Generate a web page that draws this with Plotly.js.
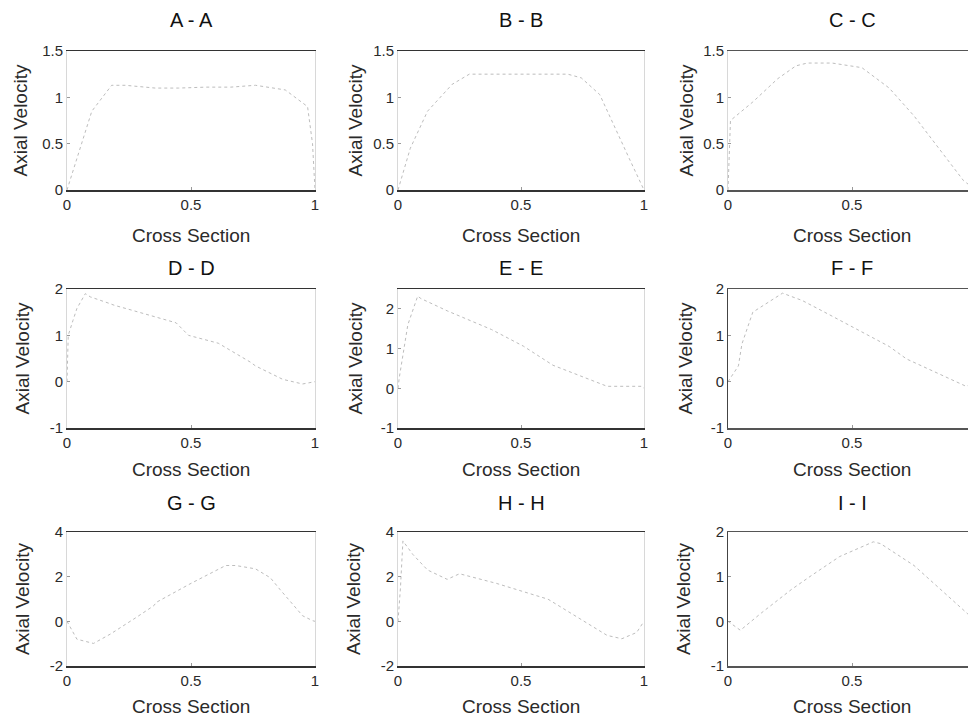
<!DOCTYPE html>
<html><head><meta charset="utf-8">
<script src="https://cdn.plot.ly/plotly-3.0.1.min.js"></script>
<style>html,body{margin:0;padding:0;overflow:hidden;background:#fff}#chart{width:1000px;height:717px}</style>
</head><body><div id="chart"></div>
<script>
// ---- data ----
const panelTitles = ['A - A','B - B','C - C','D - D','E - E','F - F','G - G','H - H','I - I'];
const xAxisTitle = 'Cross Section';
const yAxisTitle = 'Axial Velocity';
const xTicks = [0, 0.5, 1];
const xTickText = ['0', '0.5', '1'];
const xTickTextRightCol = ['0', '0.5', ''];   // the "1" of the right column lies beyond the picture's edge

const xA = [0,0.047,0.1,0.18,0.235,0.356,0.45,0.56,0.66,0.76,0.88,0.97,0.99,1];
const yA = [0,0.39,0.85,1.13,1.13,1.10,1.10,1.11,1.11,1.13,1.08,0.9,0.5,0];
const xB = [0,0.05,0.12,0.22,0.29,0.41,0.55,0.69,0.745,0.82,0.94,1];
const yB = [0,0.45,0.85,1.14,1.25,1.25,1.25,1.25,1.21,1.03,0.34,0];
const xC = [0,0.01,0.1,0.2,0.274,0.32,0.42,0.54,0.65,0.75,0.85,0.95,1];
const yC = [0,0.75,0.95,1.2,1.34,1.37,1.37,1.32,1.1,0.8,0.45,0.1,0];
const xD = [0,0.005,0.024,0.04,0.074,0.094,0.17,0.19,0.25,0.42,0.44,0.49,0.61,0.74,0.76,0.87,0.905,0.95,1];
const yD = [0,1.0,1.32,1.58,1.9,1.83,1.69,1.65,1.56,1.31,1.27,1.0,0.83,0.42,0.34,0.05,0.0,-0.05,0];
const xE = [0,0.005,0.04,0.08,0.093,0.2,0.38,0.51,0.63,0.75,0.85,0.955,0.99,1];
const yE = [0,0.26,1.6,2.32,2.26,1.95,1.48,1.06,0.58,0.3,0.05,0.05,0.05,0];
const xF = [0,0.042,0.056,0.1,0.22,0.3,0.4,0.62,0.65,0.72,0.91,0.96,1];
const yF = [0,0.34,0.81,1.5,1.91,1.75,1.47,0.85,0.76,0.49,0.01,-0.1,0];
const xG = [0,0.04,0.107,0.175,0.28,0.35,0.36,0.5,0.64,0.68,0.76,0.82,0.86,0.95,0.99,1];
const yG = [0,-0.8,-0.99,-0.57,0.18,0.70,0.85,1.7,2.5,2.5,2.35,1.95,1.41,0.25,0.03,0];
const xH = [0,0.01,0.02,0.06,0.12,0.2,0.25,0.4,0.61,0.69,0.85,0.91,0.97,1];
const yH = [0,1.5,3.6,3.0,2.3,1.88,2.13,1.7,0.99,0.45,-0.63,-0.78,-0.5,0];
const xI = [0,0.05,0.134,0.163,0.255,0.335,0.45,0.586,0.615,0.75,0.884,0.95,1];
const yI = [0,-0.2,0.185,0.31,0.71,1.02,1.45,1.78,1.74,1.25,0.58,0.25,0];

const yRangeA = [0,1.5], yRangeB = [0,1.5], yRangeC = [0,1.5];
const yRangeD = [-1,2], yRangeE = [-1,2.5], yRangeF = [-1,2];
const yRangeG = [-2,4], yRangeH = [-2,4], yRangeI = [-1,2];
const yTicks15 = [0,0.5,1,1.5], yTickText15 = ['0','0.5','1','1.5'];
const yTicks2 = [-1,0,1,2], yTickText2 = ['-1','0','1','2'];
const yTicks4 = [-2,0,2,4], yTickText4 = ['-2','0','2','4'];

// ---- layout helpers ----
const W = 1000, H = 717;
const cols = [[67,315],[398,644],[728,976]];
const rows = [[51,190],[289,428],[532,666]];
const titleY = [20, 268, 503];
const xTitleY = [235, 469, 706];
const yTitleX = [[20,355,686],[22,355,685],[22,353,683]];

const panels = [
  {x:xA,y:yA,r:yRangeA,t:yTicks15,tt:yTickText15},
  {x:xB,y:yB,r:yRangeB,t:yTicks15,tt:yTickText15},
  {x:xC,y:yC,r:yRangeC,t:yTicks15,tt:yTickText15},
  {x:xD,y:yD,r:yRangeD,t:yTicks2,tt:yTickText2},
  {x:xE,y:yE,r:yRangeE,t:yTicks2,tt:yTickText2},
  {x:xF,y:yF,r:yRangeF,t:yTicks2,tt:yTickText2},
  {x:xG,y:yG,r:yRangeG,t:yTicks4,tt:yTickText4},
  {x:xH,y:yH,r:yRangeH,t:yTicks4,tt:yTickText4},
  {x:xI,y:yI,r:yRangeI,t:yTicks2,tt:yTickText2}
];

const fontFam = 'Liberation Sans, Arial, sans-serif';
const txt = '#2a2a2a';
const traces = [];
const layout = {
  width: W, height: H,
  margin: {l:0,r:0,t:0,b:0},
  paper_bgcolor: '#fff', plot_bgcolor: '#fff',
  showlegend: false,
  font: {family: fontFam, color: txt, size: 15},
  annotations: []
};

panels.forEach((p, i) => {
  const r = Math.floor(i/3), c = i%3;
  const n = i+1;
  const xa = 'xaxis' + (n===1?'':n), ya = 'yaxis' + (n===1?'':n);
  traces.push({
    x: p.x, y: p.y, type: 'scatter', mode: 'lines',
    xaxis: 'x'+(n===1?'':n), yaxis: 'y'+(n===1?'':n),
    line: {color: '#bdbdbd', width: 1, dash: 'dot'},
    hoverinfo: 'skip'
  });
  const darkLeft = (i===5 || i===8);
  layout[xa] = {
    domain: [cols[c][0]/W, cols[c][1]/W],
    anchor: 'y'+(n===1?'':n),
    range: [0,1], tickvals: xTicks, ticktext: c===2 ? xTickTextRightCol : xTickText,
    showgrid: false, zeroline: false,
    showline: true, mirror: true, linecolor: c===2 ? '#555' : '#333', linewidth: 1.5,
    ticks: 'inside', ticklen: 3, tickcolor: '#999',
    tickfont: {size: 15, color: txt, family: fontFam}
  };
  layout[ya] = {
    domain: [1 - rows[r][1]/H, 1 - rows[r][0]/H],
    anchor: 'x'+(n===1?'':n),
    range: p.r, tickvals: p.t, ticktext: p.tt,
    showgrid: false, zeroline: false,
    showline: true, mirror: true, linecolor: darkLeft ? '#444' : '#d8d8d8', linewidth: 1,
    ticks: 'inside', ticklen: 3, tickcolor: '#999',
    tickfont: {size: 15, color: txt, family: fontFam}
  };
  const cx = (cols[c][0] + cols[c][1]) / 2;
  layout.annotations.push({
    text: panelTitles[i], xref: 'paper', yref: 'paper',
    x: cx/W, y: 1 - titleY[r]/H, xanchor: 'center', yanchor: 'middle',
    showarrow: false, font: {size: 20, color: '#111', family: fontFam}
  });
  layout.annotations.push({
    text: xAxisTitle, xref: 'paper', yref: 'paper',
    x: cx/W, y: 1 - xTitleY[r]/H, xanchor: 'center', yanchor: 'middle',
    showarrow: false, font: {size: 19, color: txt, family: fontFam}
  });
  layout.annotations.push({
    text: yAxisTitle, xref: 'paper', yref: 'paper',
    x: yTitleX[r][c]/W, y: 1 - ((rows[r][0]+rows[r][1])/2)/H,
    xanchor: 'center', yanchor: 'middle', textangle: -90,
    showarrow: false, font: {size: 19, color: txt, family: fontFam}
  });
});

Plotly.newPlot('chart', traces, layout, {displayModeBar: false, staticPlot: true});
</script>
</body></html>
